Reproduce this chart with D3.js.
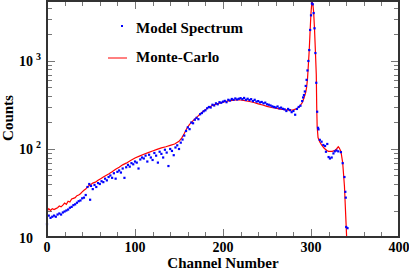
<!DOCTYPE html>
<html>
<head>
<meta charset="utf-8">
<script src="https://cdn.jsdelivr.net/npm/d3@7"></script>
<style>
  body { margin: 0; background: #fff; }
  text { font-family: "Liberation Serif", "Times New Roman", serif; font-weight: bold; fill: #000; }
</style>
</head>
<body>
<svg id="chart"></svg>
<script>
const width = 409;
const height = 270;

// Monte-Carlo curve [channel, counts]
const monteCarlo = [
  [0, 19.5], [2, 21], [4, 20], [6, 21], [8, 20.5], [10, 21], [12, 21.5], [14, 22.5], [16, 22], [18, 23],
  [20, 24.3], [22, 23.5], [24, 25.5], [26, 25], [28, 27], [30, 27.5], [32, 28], [34, 29.5], [36, 30], [38, 31],
  [40, 32.5], [42, 34], [44, 35], [46, 37], [48, 38.5], [50, 39.5], [52, 41], [55, 42], [58, 44], [61, 46],
  [64, 48], [67, 50], [70, 52], [74, 55], [78, 59], [82, 62], [86, 66], [90, 69], [95, 74], [100, 79],
  [105, 83], [110, 87], [115, 91], [120, 95], [125, 99], [130, 103], [135, 106], [140, 110], [145, 114], [150, 122],
  [153, 133], [156, 150], [159, 172], [162, 190], [165, 205], [168, 220], [171, 233], [174, 250], [177, 265], [180, 280],
  [184, 298], [188, 312], [192, 323], [196, 332], [200, 340], [205, 350], [210, 357], [215, 360], [220, 360], [225, 355],
  [230, 346], [235, 337], [240, 326], [245, 316], [250, 305], [255, 296], [260, 290], [265, 284], [270, 280], [275, 277],
  [280, 278], [284, 287], [287, 305], [290, 335], [292, 380], [294, 440], [295, 500], [296, 620], [297, 900], [298, 1330],
  [299, 2200], [300, 3500], [301, 4700], [302, 4500], [303, 3600], [304, 2300], [305, 1300], [306, 700], [306.5, 300], [307, 180],
  [308, 135], [310, 120], [312, 111], [315, 102], [318, 96], [320, 94], [324, 94], [327, 96], [329, 100], [331, 106],
  [332, 103], [334, 94], [336, 70], [338, 38], [340.5, 10], [341, 0], [381, 4], [390, 3], [399, 5]
];

// Model spectrum points [channel, counts]
const modelSpectrum = [
  [0, 14], [2, 17.5], [4, 16.5], [6, 17], [8, 17.5], [10, 17], [12, 18], [14, 18.5], [16, 18], [18, 19],
  [20, 19.5], [22, 20], [24, 20.5], [26, 21.5], [28, 22], [30, 23], [32, 23.5], [34, 24.5], [36, 25.5], [38, 26],
  [40, 27.5], [42, 28], [44, 30], [46, 37], [48, 40], [49, 26.5], [50, 38], [52, 35], [54, 39], [56, 37],
  [58, 41], [60, 40], [62, 43], [64, 42], [66, 46], [68, 44], [70, 48], [72, 50], [74, 47], [76, 53],
  [78, 46], [80, 55], [82, 57], [84, 54], [86, 60], [88, 47], [90, 62], [92, 66], [94, 63], [96, 69],
  [98, 67], [100, 72], [102, 70], [104, 60], [106, 76], [108, 80], [110, 78], [112, 84], [114, 72], [116, 86],
  [118, 80], [120, 75], [122, 90], [124, 84], [126, 70], [128, 93], [130, 88], [132, 80], [134, 98], [136, 91],
  [138, 64], [140, 100], [142, 95], [144, 85], [146, 104], [148, 110], [150, 100], [152, 118], [154, 128], [156, 142],
  [158, 160], [160, 176], [162, 168], [164, 200], [166, 196], [168, 215], [170, 226], [172, 218], [174, 248], [176, 256],
  [178, 268], [180, 275], [182, 290], [184, 300], [186, 296], [188, 318], [190, 312], [192, 330], [194, 322], [196, 340],
  [198, 335], [200, 345], [202, 352], [204, 340], [206, 362], [208, 355], [210, 370], [212, 362], [214, 375], [216, 365],
  [218, 372], [220, 378], [222, 368], [224, 380], [226, 362], [228, 372], [230, 360], [232, 368], [234, 350], [236, 362],
  [238, 345], [240, 350], [242, 338], [244, 342], [246, 330], [248, 336], [250, 322], [252, 318], [254, 312], [256, 305],
  [258, 300], [260, 296], [262, 304], [264, 290], [266, 295], [268, 286], [270, 282], [272, 270], [274, 285], [276, 276],
  [278, 262], [280, 270], [282, 245], [284, 285], [286, 300], [288, 310], [290, 350], [291, 385], [292, 410], [293, 450],
  [294, 520], [295, 610], [296, 780], [297, 1000], [298, 1330], [299, 2250], [300, 3300], [301, 4500], [302, 4400], [303, 3500],
  [304, 2350], [305, 1230], [306, 565], [307, 265], [308, 174], [308.5, 167], [310, 127], [312, 121], [314, 111], [316, 108],
  [317, 93], [318.5, 114], [320, 81], [321.5, 78], [323.5, 80], [325.5, 89], [327, 94], [329, 96], [331, 94], [334, 92],
  [336, 69], [338, 48], [339, 32.6], [339.5, 28], [340, 13], [341.5, 12.6]
];

const xTickLabels = [0, 100, 200, 300, 400];
const yDecades = [10, 100, 1000];
const yExponents = ["", "2", "3"];
const legendLabels = ["Model Spectrum", "Monte-Carlo"];

const svg = d3.select('#chart')
  .attr('width', width)
  .attr('height', height);

const x = d3.scaleLinear().domain([0, 400]).range([47, 399]);
const y = d3.scaleLog().domain([10, 4800]).range([237, 1]);
const yMin = 10;

// minor / major ticks
const xMinor = d3.range(0, 401, 20);
const yMinor = [];
yDecades.forEach(d => {
  for (let k = 1; k <= 9; k++) {
    if (d * k <= 4800) yMinor.push({ v: d * k, major: k === 1 });
  }
});

const ticks = svg.append('g').attr('stroke', '#777').attr('stroke-width', 1);
xMinor.forEach(v => {
  const len = v % 100 === 0 ? 8 : 5;
  const px = Math.round(x(v)) + 0.5;
  ticks.append('line').attr('x1', px).attr('x2', px).attr('y1', 237).attr('y2', 237 - len);
  ticks.append('line').attr('x1', px).attr('x2', px).attr('y1', 1).attr('y2', 1 + len);
});
yMinor.forEach(d => {
  const len = d.major ? 8 : 5;
  const py = Math.round(y(d.v)) + 0.5;
  ticks.append('line').attr('x1', 47).attr('x2', 47 + len).attr('y1', py).attr('y2', py);
  ticks.append('line').attr('x1', 399).attr('x2', 399 - len).attr('y1', py).attr('y2', py);
});

// curve
const line = d3.line()
  .defined(d => d[1] > 0)
  .x(d => x(d[0]))
  .y(d => y(Math.max(d[1], yMin)));

svg.append('path')
  .datum(monteCarlo)
  .attr('d', line)
  .attr('fill', 'none')
  .attr('stroke', '#ff0000')
  .attr('stroke-width', 1.2);

svg.selectAll('rect.pt')
  .data(modelSpectrum)
  .enter().append('rect')
  .attr('class', 'pt')
  .attr('x', d => x(d[0]) - 1.1)
  .attr('y', d => y(d[1]) - 1.1)
  .attr('width', 2.2)
  .attr('height', 2.2)
  .attr('fill', '#0000ff');

// frame
svg.append('rect')
  .attr('x', 47)
  .attr('y', 1)
  .attr('width', 352)
  .attr('height', 236)
  .attr('fill', 'none')
  .attr('stroke', '#333')
  .attr('stroke-width', 2);

// tick labels
svg.selectAll('text.xlab')
  .data(xTickLabels)
  .enter().append('text')
  .attr('class', 'xlab')
  .attr('x', d => x(d))
  .attr('y', 252)
  .attr('text-anchor', 'middle')
  .style('font-size', '14px')
  .text(d => d);

yDecades.forEach((d, i) => {
  const py = y(d);
  svg.append('text')
    .attr('x', 33)
    .attr('y', py + 5.5)
    .attr('text-anchor', 'end')
    .style('font-size', '14px')
    .text('10');
  if (yExponents[i]) {
    svg.append('text')
      .attr('x', 36)
      .attr('y', py - 1)
      .style('font-size', '10px')
      .text(yExponents[i]);
  }
});

// axis titles
svg.append('text')
  .attr('x', 223)
  .attr('y', 268)
  .attr('text-anchor', 'middle')
  .style('font-size', '15px')
  .text('Channel Number');

svg.append('text')
  .attr('transform', `translate(13,118) rotate(-90)`)
  .attr('text-anchor', 'middle')
  .style('font-size', '15px')
  .text('Counts');

// legend
svg.append('rect')
  .attr('x', 121)
  .attr('y', 25)
  .attr('width', 2)
  .attr('height', 2)
  .attr('fill', '#0000ff');
svg.append('line')
  .attr('x1', 108)
  .attr('x2', 127)
  .attr('y1', 58)
  .attr('y2', 58)
  .attr('stroke', '#ff0000')
  .attr('stroke-width', 1);
svg.selectAll('text.leg')
  .data(legendLabels)
  .enter().append('text')
  .attr('class', 'leg')
  .attr('x', 136)
  .attr('y', (d, i) => 33 + i * 29)
  .style('font-size', '15px')
  .text(d => d);
</script>
</body>
</html>
